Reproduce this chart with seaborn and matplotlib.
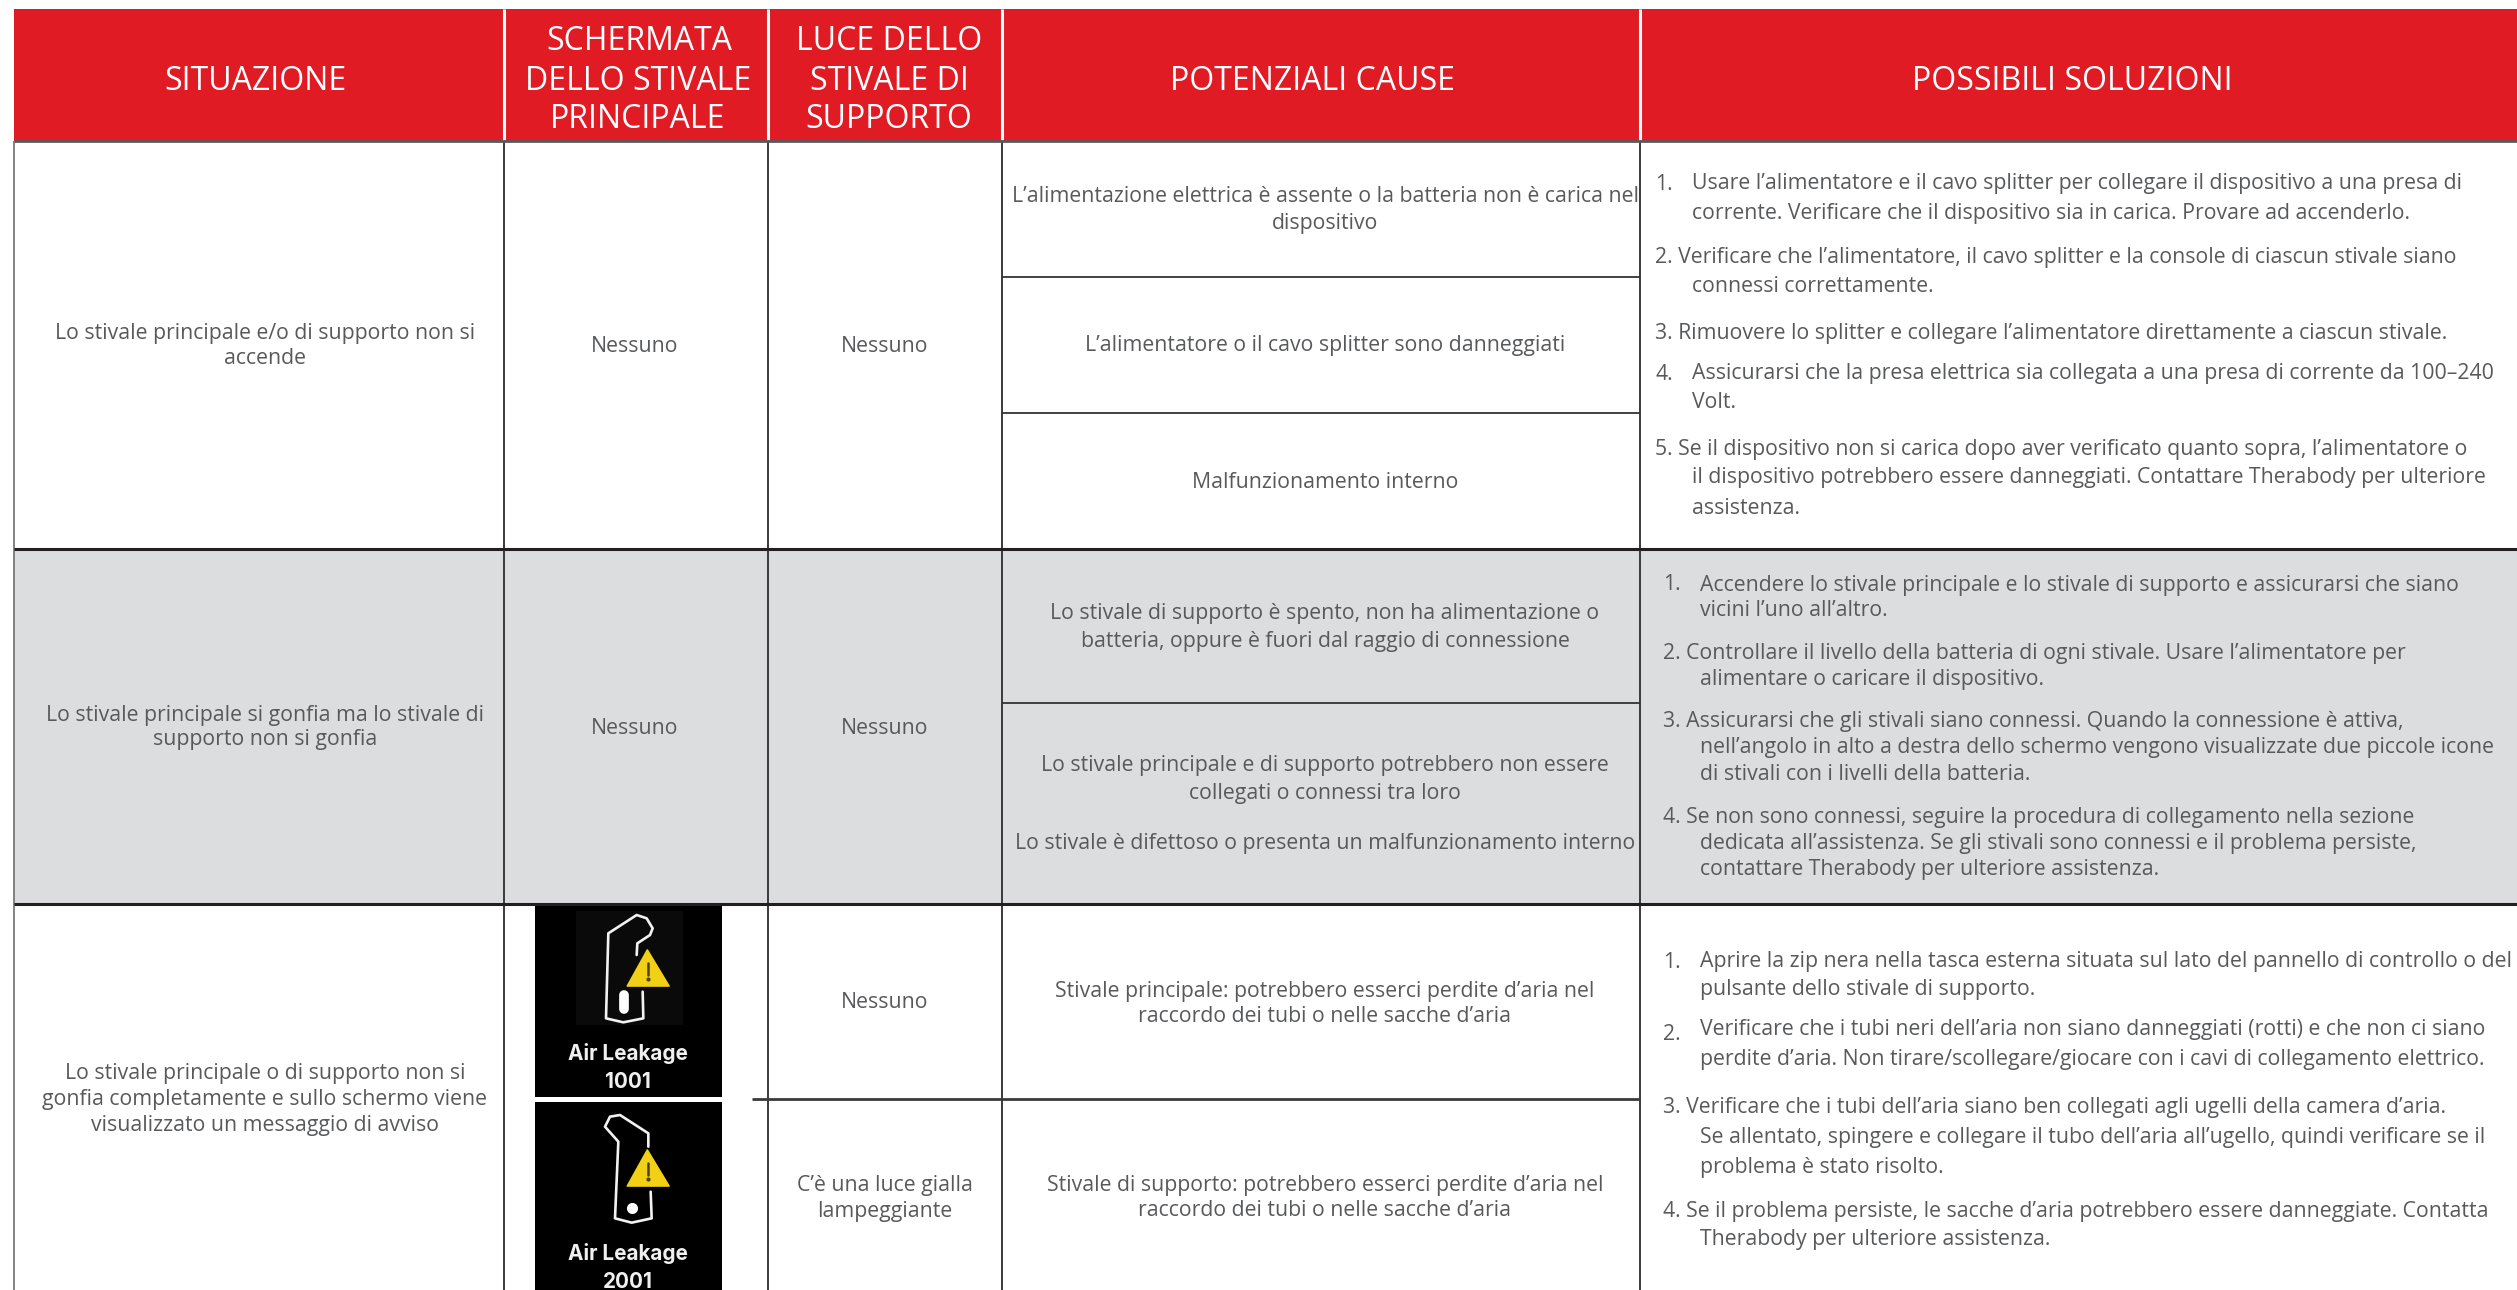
import numpy as np
import matplotlib
matplotlib.use("Agg")
import matplotlib.pyplot as plt
from matplotlib.colors import ListedColormap
from matplotlib.patches import Rectangle, Polygon
import seaborn as sns

# ---------- DATA ----------
HEADERS = ["SITUAZIONE", "SCHERMATA", "DELLO STIVALE", "PRINCIPALE", "LUCE DELLO", "STIVALE DI",
           "SUPPORTO", "POTENZIALI CAUSE", "POSSIBILI SOLUZIONI"]
SITUATIONS = ["Lo stivale principale e/o di supporto non si", "accende",
              "Lo stivale principale si gonfia ma lo stivale di", "supporto non si gonfia",
              "Lo stivale principale o di supporto non si", "gonfia completamente e sullo schermo viene",
              "visualizzato un messaggio di avviso"]
SCREENS = ["Nessuno", "Nessuno"]
LIGHTS = ["Nessuno", "Nessuno", "Nessuno", "C’è una luce gialla", "lampeggiante"]
CAUSES = ["L’alimentazione elettrica è assente o la batteria non è carica nel", "dispositivo",
          "L’alimentatore o il cavo splitter sono danneggiati",
          "Malfunzionamento interno",
          "Lo stivale di supporto è spento, non ha alimentazione o",
          "batteria, oppure è fuori dal raggio di connessione",
          "Lo stivale principale e di supporto potrebbero non essere",
          "collegati o connessi tra loro",
          "Lo stivale è difettoso o presenta un malfunzionamento interno",
          "Stivale principale: potrebbero esserci perdite d’aria nel",
          "raccordo dei tubi o nelle sacche d’aria",
          "Stivale di supporto: potrebbero esserci perdite d’aria nel",
          "raccordo dei tubi o nelle sacche d’aria"]
SOL_NUMBERS = ["1.", "4.", "1.", "1.", "2."]
SOL_1 = ["Usare l’alimentatore e il cavo splitter per collegare il dispositivo a una presa di",
         "corrente. Verificare che il dispositivo sia in carica. Provare ad accenderlo.",
         "2. Verificare che l’alimentatore, il cavo splitter e la console di ciascun stivale siano",
         "connessi correttamente.",
         "3. Rimuovere lo splitter e collegare l’alimentatore direttamente a ciascun stivale.",
         "Assicurarsi che la presa elettrica sia collegata a una presa di corrente da 100–240",
         "Volt.",
         "5. Se il dispositivo non si carica dopo aver verificato quanto sopra, l’alimentatore o",
         "il dispositivo potrebbero essere danneggiati. Contattare Therabody per ulteriore",
         "assistenza."]
SOL_2 = ["Accendere lo stivale principale e lo stivale di supporto e assicurarsi che siano",
         "vicini l’uno all’altro.",
         "2. Controllare il livello della batteria di ogni stivale. Usare l’alimentatore per",
         "alimentare o caricare il dispositivo.",
         "3. Assicurarsi che gli stivali siano connessi. Quando la connessione è attiva,",
         "nell’angolo in alto a destra dello schermo vengono visualizzate due piccole icone",
         "di stivali con i livelli della batteria.",
         "4. Se non sono connessi, seguire la procedura di collegamento nella sezione",
         "dedicata all’assistenza. Se gli stivali sono connessi e il problema persiste,",
         "contattare Therabody per ulteriore assistenza."]
SOL_3 = ["Aprire la zip nera nella tasca esterna situata sul lato del pannello di controllo o del",
         "pulsante dello stivale di supporto.",
         "Verificare che i tubi neri dell’aria non siano danneggiati (rotti) e che non ci siano",
         "perdite d’aria. Non tirare/scollegare/giocare con i cavi di collegamento elettrico.",
         "3. Verificare che i tubi dell’aria siano ben collegati agli ugelli della camera d’aria.",
         "Se allentato, spingere e collegare il tubo dell’aria all’ugello, quindi verificare se il",
         "problema è stato risolto.",
         "4. Se il problema persiste, le sacche d’aria potrebbero essere danneggiate. Contatta",
         "Therabody per ulteriore assistenza."]
ICON_LABELS = ["Air Leakage", "1001", "Air Leakage", "2001"]

# ---------- LAYOUT (pixels of the 2517x1290 picture) ----------
W, H = 2517, 1290
RED, GREY, INK = "#E01B24", "#DCDDDF", "#58595B"
BAND_HEIGHTS = [132, 408, 355, 386]     # header, row 1, row 2, row 3, from y=9
BAND_CLASSES = [1, 0, 2, 0]
COL_X = [14, 504, 768, 1002, 1640]
HEADER_X = [255, 639, 638, 638, 889, 889, 889, 1313, 2072]
HEADER_Y = [82, 42, 81, 119, 42, 81, 119, 82, 82]
SIT_Y = [334, 358, 715, 740, 1074, 1100, 1126]
SCREEN_Y = [346, 728]
LIGHT_Y = [346, 728, 1003, 1185, 1211]
CAUSE_Y = [196, 223, 346, 482, 614, 641, 766, 793, 843, 991, 1016, 1185, 1211]
NUM_POS = [(1655, 184), (1655, 375), (1663, 585), (1663, 962), (1663, 1034)]
S1_X = [1692, 1692, 1655, 1692, 1655, 1692, 1692, 1655, 1692, 1692]
S1_Y = [184, 213, 258, 286, 333, 374, 403, 450, 478, 509]
S2_X = [1700, 1700, 1663, 1700, 1663, 1700, 1700, 1663, 1700, 1700]
S2_Y = [585, 611, 654, 680, 722, 748, 774, 817, 844, 870]
S3_X = [1700, 1700, 1700, 1700, 1663, 1700, 1700, 1663, 1700]
S3_Y = [962, 989, 1029, 1059, 1108, 1137, 1168, 1212, 1240]
FS = 15.3

sns.set_theme(style="white")
plt.rcParams["font.family"] = ["Open Sans", "DejaVu Sans"]

fig = plt.figure(figsize=(W / 100, H / 100), dpi=100, facecolor="white")

# background bands drawn as a one-column seaborn heatmap, one matrix row per pixel
matrix = np.repeat(BAND_CLASSES, BAND_HEIGHTS).reshape(-1, 1)
hm_ax = fig.add_axes([14 / W, 0, (W - 14) / W, (H - 9) / H])
sns.heatmap(matrix, ax=hm_ax, cmap=ListedColormap(["white", RED, GREY]), vmin=0, vmax=2,
            cbar=False, xticklabels=False, yticklabels=False)

# overlay in pixel coordinates
ax = fig.add_axes([0, 0, 1, 1], facecolor="none")
ax.set_xlim(0, W)
ax.set_ylim(H, 0)
ax.axis("off")

# header separators
ax.vlines(COL_X[1:], 9, 140, color="white", lw=2.2)
# grid
ax.vlines(COL_X[0], 141, H, color="#6d6e70", lw=1.2)
ax.vlines(COL_X[1:], 141, H, color="#3a3a3c", lw=1.4)
ax.hlines(141, 14, W, color=INK, lw=2.0)
ax.hlines([549, 904], 14, W, color="#231F20", lw=2.2)
ax.hlines([277, 413, 703], 1002, 1640, color="#333333", lw=1.3)
ax.hlines(1099, 752, 1640, color="#3a3a3c", lw=2.0)


def put(xs, ys, strings, **kw):
    for x, y, s in zip(xs, ys, strings):
        ax.text(x, y, s, va="center", **kw)


put(HEADER_X, HEADER_Y, HEADERS, ha="center", color="white", fontsize=23.0)
put([265] * 7, SIT_Y, SITUATIONS, ha="center", color=INK, fontsize=FS)
put([635] * 2, SCREEN_Y, SCREENS, ha="center", color=INK, fontsize=FS)
put([885] * 5, LIGHT_Y, LIGHTS, ha="center", color=INK, fontsize=FS)
put([1325] * 13, CAUSE_Y, CAUSES, ha="center", color=INK, fontsize=FS)
put([p[0] for p in NUM_POS], [p[1] for p in NUM_POS], SOL_NUMBERS, ha="left", color=INK, fontsize=FS)
put(S1_X, S1_Y, SOL_1, ha="left", color=INK, fontsize=FS)
put(S2_X, S2_Y, SOL_2, ha="left", color=INK, fontsize=FS)
put(S3_X, S3_Y, SOL_3, ha="left", color=INK, fontsize=FS)


# warning-screen icons; outline points are in zoom-crop units (3x, origin 500,890)
def zx(v):
    return 500 + np.asarray(v, float) / 3


def zy(v):
    return 890 + np.asarray(v, float) / 3


YEL = "#F2D015"
for top, bot in [(906, 1097), (1102, 1290)]:
    ax.add_patch(Rectangle((535, top), 187, bot - top, fc="black", ec="none", zorder=3))
ax.add_patch(Rectangle((zx(228), zy(62)), 322 / 3, 343 / 3, fc="#0A0A0A", ec="none", zorder=3))

outlines = [
    ([410, 412, 450, 458, 440, 410, 325, 318, 370, 430, 428],
     [195, 160, 135, 115, 85, 75, 130, 385, 397, 385, 305]),
    ([445, 445, 360, 330, 315, 355, 345, 395, 455, 452],
     [770, 730, 675, 680, 710, 755, 985, 998, 985, 905]),
]
for xs, ys in outlines:
    ax.plot(zx(xs), zy(ys), color="#F2F2F2", lw=1.9, solid_joinstyle="round", zorder=4)

for off in (0, 600):
    tri = np.column_stack([zx([442, 382, 507]), zy(np.array([180, 288, 288]) + off)])
    ax.add_patch(Polygon(tri, closed=True, fc=YEL, ec=YEL, lw=1.2, joinstyle="round", zorder=5))
    ax.plot(zx([443, 443]), zy(np.array([218, 255]) + off), color="#4a4212", lw=1.8, zorder=6)
    ax.plot(zx([443]), zy(np.array([268]) + off), "o", color="#4a4212", ms=2, zorder=6)
ax.plot(zx([372, 372]), zy([315, 358]), color="white", lw=7, solid_capstyle="round", zorder=4)
ax.plot(zx([397]), zy([953]), "o", color="white", ms=8, mec="none", zorder=4)

put([628] * 4, [1054, 1082, 1254, 1282], ICON_LABELS, ha="center", color="#F0F0F0",
    fontsize=14.9, fontweight="bold", family=["Inter", "DejaVu Sans"], zorder=7)

fig.savefig("out.png", dpi=100, facecolor="white")
